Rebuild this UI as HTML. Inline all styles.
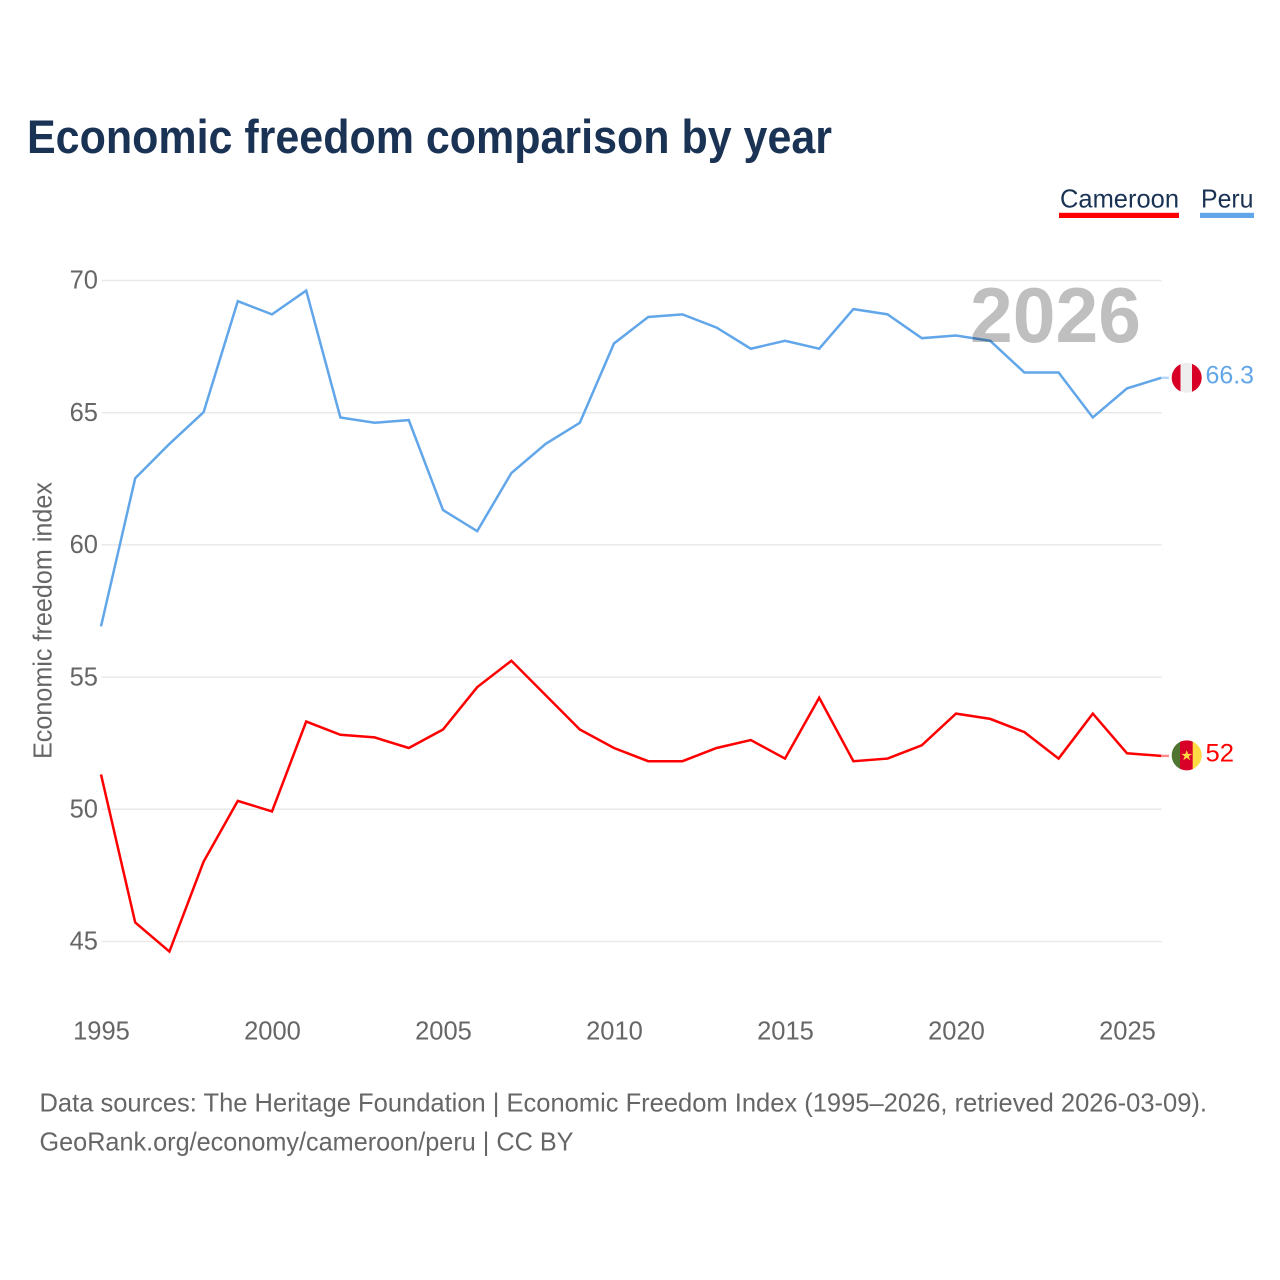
<!DOCTYPE html>
<html lang="en">
<head>
<meta charset="utf-8">
<title>Economic freedom comparison by year</title>
<style>
html,body{margin:0;padding:0;background:#fff;width:1280px;height:1280px;overflow:hidden}
svg{display:block}
text{font-family:"Liberation Sans",sans-serif}
</style>
</head>
<body>
<svg id="chart" xmlns="http://www.w3.org/2000/svg" width="1280" height="1280" viewBox="0 0 1280 1280">
  <defs>
    <clipPath id="clip-peru"><circle cx="1186.7" cy="377.8" r="15"/></clipPath>
    <clipPath id="clip-cameroon"><circle cx="1186.7" cy="755.4" r="15"/></clipPath>
  </defs>
  <rect x="0" y="0" width="1280" height="1280" fill="#ffffff"/>
  <text x="27" y="153" font-size="47" font-weight="700" fill="#1a3354" textLength="805" lengthAdjust="spacingAndGlyphs">Economic freedom comparison by year</text>

  <g>
    <text x="1060" y="207.5" font-size="26" fill="#1a3354" textLength="119" lengthAdjust="spacingAndGlyphs">Cameroon</text>
    <rect x="1059" y="212.8" width="120" height="5.2" fill="#ff0000"/>
  </g>
  <g>
    <text x="1201" y="207.5" font-size="26" fill="#1a3354" textLength="52.5" lengthAdjust="spacingAndGlyphs">Peru</text>
    <rect x="1200" y="212.8" width="54" height="5.2" fill="#62a6ea"/>
  </g>

  <g id="grid"></g>
  <g id="yticks"></g>
  <g id="xticks"></g>
  <text transform="translate(51.5,759) rotate(-90)" font-size="25.5" fill="#666666" textLength="277" lengthAdjust="spacingAndGlyphs">Economic freedom index</text>

  <g id="series"></g>

  <text x="970" y="342" font-size="78" font-weight="700" fill="#000000" fill-opacity="0.25" textLength="171" lengthAdjust="spacingAndGlyphs">2026</text>

  <g clip-path="url(#clip-peru)">
    <rect x="1171" y="362" width="32" height="32" fill="#eeeeee"/>
    <rect x="1171" y="362" width="9.5" height="32" fill="#d80027"/>
    <rect x="1192" y="362" width="11" height="32" fill="#d80027"/>
  </g>
  <g clip-path="url(#clip-cameroon)">
    <rect x="1171" y="740" width="10" height="32" fill="#4f7530"/>
    <rect x="1180" y="740" width="13" height="32" fill="#d80027"/>
    <rect x="1192.7" y="740" width="10" height="32" fill="#ffda44"/>
    <polygon points="1186.7,750 1188,753.9 1192.2,753.9 1188.8,756.3 1190.1,760.2 1186.7,757.8 1183.3,760.2 1184.6,756.3 1181.2,753.9 1185.4,753.9" fill="#ffda44"/>
  </g>
  <text id="label-peru" x="1205.5" y="383.5" font-size="25" fill="#62a6ea" textLength="48.5" lengthAdjust="spacingAndGlyphs"></text>
  <text id="label-cameroon" x="1205.5" y="761.5" font-size="25" fill="#ff0000" textLength="28.5" lengthAdjust="spacingAndGlyphs"></text>

  <text x="39.5" y="1111.5" font-size="26" fill="#666666" textLength="1167.5" lengthAdjust="spacingAndGlyphs">Data sources: The Heritage Foundation | Economic Freedom Index (1995–2026, retrieved 2026-03-09).</text>
  <text x="39.5" y="1150.5" font-size="26" fill="#666666" textLength="534" lengthAdjust="spacingAndGlyphs">GeoRank.org/economy/cameroon/peru | CC BY</text>
</svg>
<script>
const years = [1995,1996,1997,1998,1999,2000,2001,2002,2003,2004,2005,2006,2007,2008,2009,2010,2011,2012,2013,2014,2015,2016,2017,2018,2019,2020,2021,2022,2023,2024,2025,2026];
const peruValues = [56.9,62.5,63.8,65.0,69.2,68.7,69.6,64.8,64.6,64.7,61.3,60.5,62.7,63.8,64.6,67.6,68.6,68.7,68.2,67.4,67.7,67.4,68.9,68.7,67.8,67.9,67.7,66.5,66.5,64.8,65.9,66.3];
const cameroonValues = [51.3,45.7,44.6,48.0,50.3,49.9,53.3,52.8,52.7,52.3,53.0,54.6,55.6,54.3,53.0,52.3,51.8,51.8,52.3,52.6,51.9,54.2,51.8,51.9,52.4,53.6,53.4,52.9,51.9,53.6,52.1,52.0];
const yTickValues = [45,50,55,60,65,70];
const xTickValues = [1995,2000,2005,2010,2015,2020,2025];

const SVG_NS = 'http://www.w3.org/2000/svg';
const plotLeft = 101, plotRight = 1161.2, plotBottom = 941, plotTop = 280;
const gridLeft = 101.5, gridRight = 1161.7, gridOffset = 0.5;
function xScale(year) {
  return plotLeft + (year - 1995) * (plotRight - plotLeft) / (2026 - 1995);
}
function yScale(value) {
  return plotBottom - (value - 45) * (plotBottom - plotTop) / (70 - 45);
}
function make(tag, attrs, parent) {
  const el = document.createElementNS(SVG_NS, tag);
  for (const k in attrs) el.setAttribute(k, attrs[k]);
  parent.appendChild(el);
  return el;
}

const grid = document.getElementById('grid');
const yticks = document.getElementById('yticks');
const xticks = document.getElementById('xticks');
const series = document.getElementById('series');

yTickValues.forEach(function (v) {
  const gy = yScale(v) + gridOffset;
  const line = make('line', {x1: gridLeft, x2: gridRight, y1: gy, y2: gy, stroke: '#e9e9e9', 'stroke-width': 1.5}, grid);
  
  
  const label = make('text', {x: 98, y: yScale(v) + 8.7, 'text-anchor': 'end', 'font-size': 25.5, fill: '#666666'}, yticks);
  label.textContent = String(v);
  
  
});

xTickValues.forEach(function (v) {
  const label = make('text', {x: xScale(v) + 0.5, y: 1039.5, 'text-anchor': 'middle', 'font-size': 25.5, fill: '#666666'}, xticks);
  label.textContent = String(v);
  
  
});

function drawSeries(values, color, key) {
  const last = values[values.length - 1];
  const connector = make('line', {x1: xScale(years[years.length - 1]), x2: 1169, y1: yScale(last), y2: yScale(last), stroke: color, 'stroke-width': 2.5, 'stroke-opacity': 0.45}, series);
  
  
  const pts = values.map(function (v, i) {
    return xScale(years[i]).toFixed(2) + ',' + yScale(v).toFixed(2);
  }).join(' ');
  const line = make('polyline', {points: pts, fill: 'none', stroke: color, 'stroke-width': 2.5, 'stroke-linejoin': 'miter'}, series);
  
  
}
drawSeries(peruValues, '#62a6ea', 'peru');
drawSeries(cameroonValues, '#ff0000', 'cameroon');

document.getElementById('label-peru').textContent = String(peruValues[peruValues.length - 1]);
document.getElementById('label-cameroon').textContent = String(cameroonValues[cameroonValues.length - 1]);
</script>
</body>
</html>
